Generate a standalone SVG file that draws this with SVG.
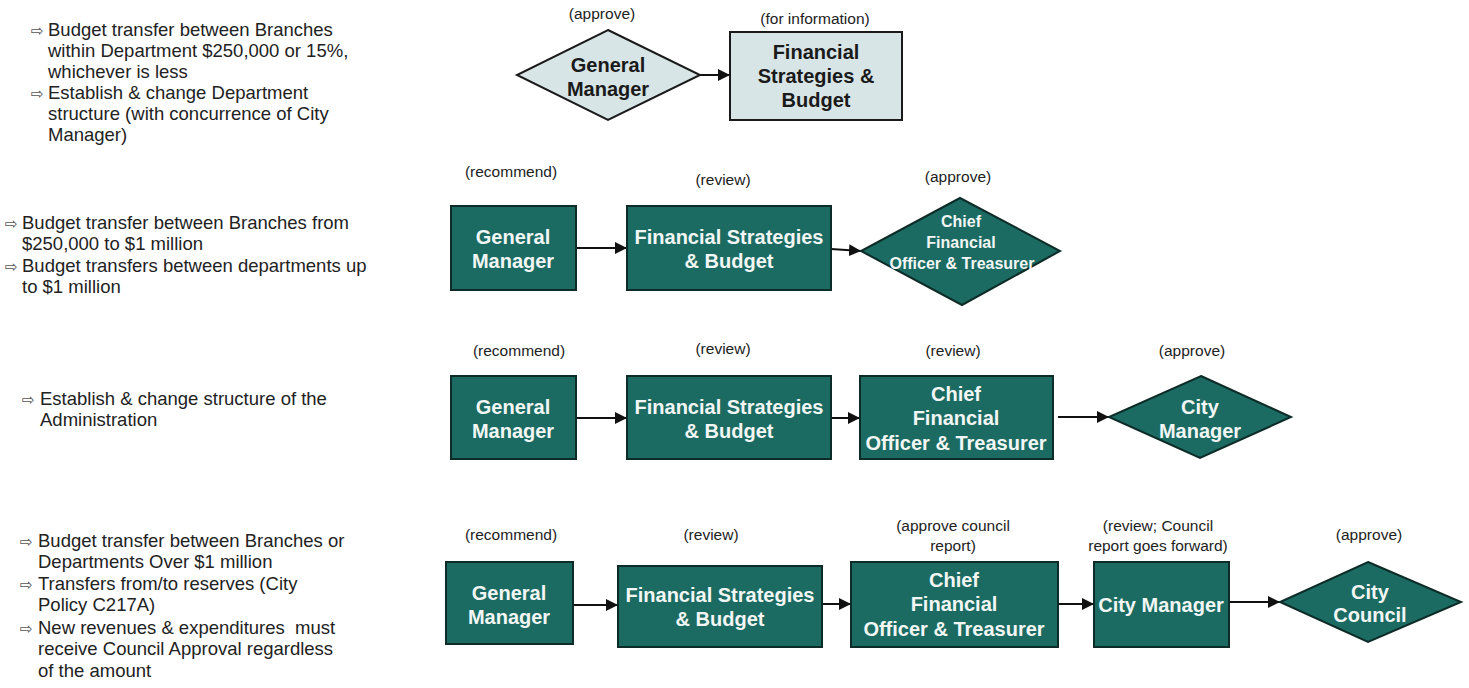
<svg xmlns="http://www.w3.org/2000/svg" width="1469" height="688" viewBox="0 0 1469 688">
<defs>
<marker id="ah" markerUnits="userSpaceOnUse" markerWidth="14" markerHeight="12" refX="12" refY="6" orient="auto">
<path d="M0,0 L12,6 L0,12 Z" fill="#111"/>
</marker>
<style>
.side{font-family:"Liberation Sans",Arial,sans-serif;font-size:18.5px;fill:#222;white-space:pre}
.bul{font-family:"DejaVu Sans",sans-serif;font-size:15px;fill:#555}
.lbl{font-family:"Liberation Sans",Arial,sans-serif;font-size:15.5px;fill:#222;text-anchor:middle}
.n{fill:#1b6b62;stroke:#0d2b27;stroke-width:2}
.nl{fill:#d8e5e7;stroke:#1a1a1a;stroke-width:2}
.t{font-family:"Liberation Sans",Arial,sans-serif;font-weight:bold;font-size:20px;fill:#f2f6f5;text-anchor:middle}
.ts{font-family:"Liberation Sans",Arial,sans-serif;font-weight:bold;font-size:16px;fill:#f2f6f5;text-anchor:middle}
.td{font-family:"Liberation Sans",Arial,sans-serif;font-weight:bold;font-size:20px;fill:#1a1a1a;text-anchor:middle}
.c{stroke:#111;stroke-width:2;fill:none;marker-end:url(#ah)}
</style>
</defs>
<rect width="1469" height="688" fill="#ffffff"/>

<g id="side-text">
<text class="bul" x="31" y="36">⇨</text>
<text class="side" x="48" y="36">Budget transfer between Branches</text>
<text class="side" x="48" y="57">within Department $250,000 or 15%,</text>
<text class="side" x="48" y="78">whichever is less</text>
<text class="bul" x="31" y="99">⇨</text>
<text class="side" x="48" y="99">Establish &amp; change Department</text>
<text class="side" x="48" y="120">structure (with concurrence of City</text>
<text class="side" x="48" y="141">Manager)</text>

<text class="bul" x="5" y="229">⇨</text>
<text class="side" x="22" y="229">Budget transfer between Branches from</text>
<text class="side" x="22" y="250">$250,000 to $1 million</text>
<text class="bul" x="5" y="272">⇨</text>
<text class="side" x="22" y="272">Budget transfers between departments up</text>
<text class="side" x="22" y="293">to $1 million</text>

<text class="bul" x="22" y="405">⇨</text>
<text class="side" x="40" y="405">Establish &amp; change structure of the</text>
<text class="side" x="40" y="426">Administration</text>

<text class="bul" x="20" y="547">⇨</text>
<text class="side" x="38" y="547">Budget transfer between Branches or</text>
<text class="side" x="38" y="568">Departments Over $1 million</text>
<text class="bul" x="20" y="590">⇨</text>
<text class="side" x="38" y="590">Transfers from/to reserves (City</text>
<text class="side" x="38" y="611">Policy C217A)</text>
<text class="bul" x="20" y="634">⇨</text>
<text class="side" x="38" y="634">New revenues &amp; expenditures  must</text>
<text class="side" x="38" y="655">receive Council Approval regardless</text>
<text class="side" x="38" y="677">of the amount</text>
</g>

<g id="labels">
<text class="lbl" x="602" y="19">(approve)</text>
<text class="lbl" x="815" y="24">(for information)</text>
<text class="lbl" x="511" y="177">(recommend)</text>
<text class="lbl" x="723" y="185">(review)</text>
<text class="lbl" x="958" y="182">(approve)</text>
<text class="lbl" x="519" y="356">(recommend)</text>
<text class="lbl" x="723" y="354">(review)</text>
<text class="lbl" x="953" y="356">(review)</text>
<text class="lbl" x="1192" y="356">(approve)</text>
<text class="lbl" x="511" y="540">(recommend)</text>
<text class="lbl" x="711" y="540">(review)</text>
<text class="lbl" x="953" y="531">(approve council</text>
<text class="lbl" x="953" y="551">report)</text>
<text class="lbl" x="1158" y="531">(review; Council</text>
<text class="lbl" x="1158" y="551">report goes forward)</text>
<text class="lbl" x="1369" y="540">(approve)</text>
</g>

<g id="connectors">
<line class="c" x1="700" y1="75" x2="730" y2="75"/>
<line class="c" x1="576" y1="248" x2="627" y2="248"/>
<line class="c" x1="831" y1="249" x2="861" y2="251"/>
<line class="c" x1="576" y1="418" x2="627" y2="418"/>
<line class="c" x1="831" y1="418" x2="860" y2="418"/>
<line class="c" x1="1058" y1="417" x2="1109" y2="417"/>
<line class="c" x1="573" y1="605" x2="618" y2="605"/>
<line class="c" x1="822" y1="604" x2="851" y2="604"/>
<line class="c" x1="1058" y1="604" x2="1094" y2="604"/>
<line class="c" x1="1229" y1="602" x2="1280" y2="602"/>
</g>

<g id="r1-gm">
<polygon class="nl" points="608,30 700,75 608,120 517,75"/>
<text class="td" x="608" y="72">General</text>
<text class="td" x="608" y="96">Manager</text>
</g>
<g id="r1-fsb">
<rect class="nl" x="730" y="32" width="172" height="88"/>
<text class="td" x="816" y="59">Financial</text>
<text class="td" x="816" y="83">Strategies &amp;</text>
<text class="td" x="816" y="107">Budget</text>
</g>

<g id="r2-gm">
<rect class="n" x="451" y="206" width="125" height="84"/>
<text class="t" x="513" y="244">General</text>
<text class="t" x="513" y="268">Manager</text>
</g>
<g id="r2-fsb">
<rect class="n" x="627" y="206" width="204" height="84"/>
<text class="t" x="729" y="244">Financial Strategies</text>
<text class="t" x="729" y="268">&amp; Budget</text>
</g>
<g id="r2-cfo">
<polygon class="n" points="960,198 1060,251 962,305 861,251"/>
<text class="ts" x="961" y="227">Chief</text>
<text class="ts" x="961" y="248">Financial</text>
<text class="ts" x="962" y="269">Officer &amp; Treasurer</text>
</g>

<g id="r3-gm">
<rect class="n" x="451" y="376" width="125" height="83"/>
<text class="t" x="513" y="414">General</text>
<text class="t" x="513" y="438">Manager</text>
</g>
<g id="r3-fsb">
<rect class="n" x="627" y="376" width="204" height="83"/>
<text class="t" x="729" y="414">Financial Strategies</text>
<text class="t" x="729" y="438">&amp; Budget</text>
</g>
<g id="r3-cfo">
<rect class="n" x="860" y="376" width="193" height="83"/>
<text class="t" x="956" y="401">Chief</text>
<text class="t" x="956" y="425">Financial</text>
<text class="t" x="956" y="450">Officer &amp; Treasurer</text>
</g>
<g id="r3-cm">
<polygon class="n" points="1201,376 1291,417 1200,458 1109,417"/>
<text class="t" x="1200" y="414">City</text>
<text class="t" x="1200" y="438">Manager</text>
</g>

<g id="r4-gm">
<rect class="n" x="446" y="562" width="127" height="82"/>
<text class="t" x="509" y="600">General</text>
<text class="t" x="509" y="624">Manager</text>
</g>
<g id="r4-fsb">
<rect class="n" x="618" y="566" width="204" height="81"/>
<text class="t" x="720" y="602">Financial Strategies</text>
<text class="t" x="720" y="626">&amp; Budget</text>
</g>
<g id="r4-cfo">
<rect class="n" x="851" y="562" width="207" height="85"/>
<text class="t" x="954" y="587">Chief</text>
<text class="t" x="954" y="611">Financial</text>
<text class="t" x="954" y="636">Officer &amp; Treasurer</text>
</g>
<g id="r4-cm">
<rect class="n" x="1094" y="562" width="135" height="85"/>
<text class="t" x="1161" y="612">City Manager</text>
</g>
<g id="r4-cc">
<polygon class="n" points="1368,562 1461,602 1368,642 1280,602"/>
<text class="t" x="1370" y="599">City</text>
<text class="t" x="1370" y="622">Council</text>
</g>
</svg>
